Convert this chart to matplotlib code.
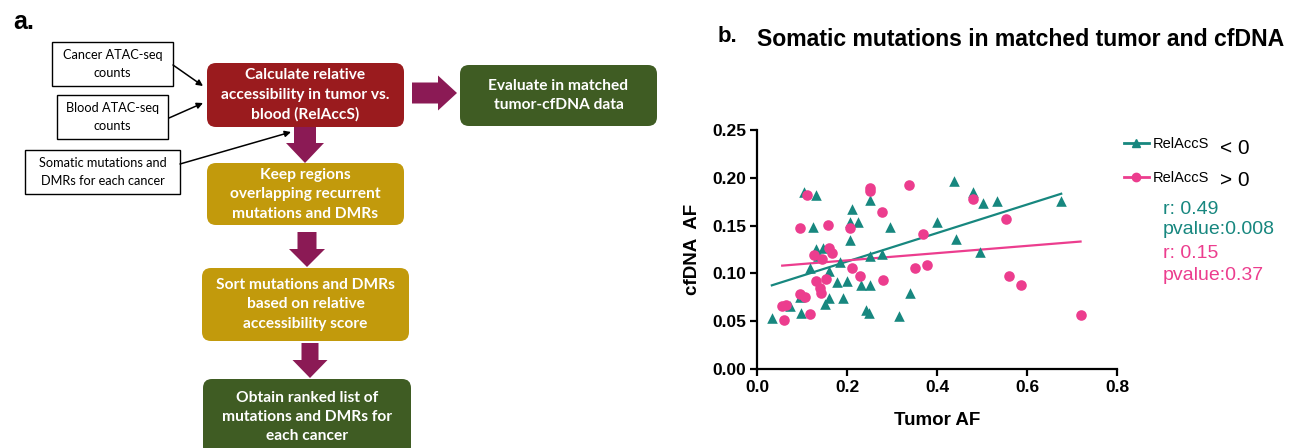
import matplotlib
matplotlib.use("Agg")
import matplotlib.pyplot as plt
from matplotlib.patches import FancyBboxPatch, Rectangle, FancyArrow
from matplotlib.lines import Line2D
import numpy as np

W, H = 1298, 448

# panel b data
tumor_neg = [0.033, 0.074, 0.095, 0.098, 0.104, 0.130, 0.124, 0.117, 0.132, 0.135,
             0.147, 0.150, 0.159, 0.159, 0.178, 0.185, 0.191, 0.200, 0.210, 0.206,
             0.224, 0.207, 0.230, 0.243, 0.248, 0.250, 0.250, 0.250, 0.278, 0.295,
             0.315, 0.339, 0.399, 0.437, 0.442, 0.481, 0.496, 0.502, 0.533, 0.676]
cfdna_neg = [0.053, 0.066, 0.075, 0.059, 0.185, 0.182, 0.149, 0.106, 0.125, 0.118,
             0.127, 0.068, 0.074, 0.103, 0.091, 0.112, 0.074, 0.092, 0.167, 0.154,
             0.154, 0.135, 0.088, 0.062, 0.059, 0.177, 0.118, 0.088, 0.120, 0.149,
             0.055, 0.079, 0.154, 0.197, 0.136, 0.185, 0.122, 0.174, 0.176, 0.176]

tumor_pos = [0.056, 0.065, 0.061, 0.096, 0.111, 0.095, 0.107, 0.117, 0.127, 0.144,
             0.130, 0.141, 0.142, 0.154, 0.157, 0.159, 0.167, 0.207, 0.211, 0.228,
             0.252, 0.252, 0.278, 0.280, 0.337, 0.350, 0.369, 0.378, 0.481, 0.554,
             0.561, 0.587, 0.719]
cfdna_pos = [0.066, 0.067, 0.051, 0.147, 0.182, 0.078, 0.075, 0.058, 0.119, 0.115,
             0.092, 0.085, 0.079, 0.094, 0.151, 0.127, 0.121, 0.147, 0.106, 0.097,
             0.189, 0.186, 0.164, 0.093, 0.192, 0.106, 0.141, 0.109, 0.178, 0.157,
             0.097, 0.088, 0.057]

# fitted lines (slope, intercept) and stats as printed
fit_neg = (0.149, 0.0826)
fit_pos = (0.038, 0.106)
stats_neg = ["r: 0.49", "pvalue:0.008"]
stats_pos = ["r: 0.15", "pvalue:0.37"]

x_ticks = [0.0, 0.2, 0.4, 0.6, 0.8]
y_ticks = [0.00, 0.05, 0.10, 0.15, 0.20, 0.25]

# panel a texts
inputs = ["Cancer ATAC-seq\ncounts", "Blood ATAC-seq\ncounts",
          "Somatic mutations and\nDMRs for each cancer"]
steps = ["Calculate relative\naccessibility in tumor vs.\nblood (RelAccS)",
         "Evaluate in matched\ntumor-cfDNA data",
         "Keep regions\noverlapping recurrent\nmutations and DMRs",
         "Sort mutations and DMRs\nbased on relative\naccessibility score",
         "Obtain ranked list of\nmutations and DMRs for\neach cancer"]

TEAL = "#17877f"
PINK = "#ec3d8e"
RED = "#9a1b1e"
GOLD = "#c29a0c"
GREEN = "#3f5c23"
ARROW = "#8b1a55"

fig = plt.figure(figsize=(W / 100, H / 100), dpi=100)

# ---- panel a: flowchart in pixel coordinates
ax0 = fig.add_axes([0, 0, 1, 1])
ax0.set_xlim(0, W)
ax0.set_ylim(H, 0)
ax0.set_axis_off()

ax0.text(13, 22, "a.", fontsize=18, fontweight="bold", family="Liberation Sans",
         va="center", ha="left")

in_boxes = [(52, 42, 173, 86), (57, 95, 168, 139), (25, 150, 180, 194)]
for (x0, y0, x1, y1), txt in zip(in_boxes, inputs):
    ax0.add_patch(Rectangle((x0, y0), x1 - x0, y1 - y0, fc="white", ec="black", lw=1))
    ax0.text((x0 + x1) / 2, (y0 + y1) / 2, txt, ha="center", va="center",
             fontsize=9.2, family="Lato", linespacing=1.6)

step_boxes = [(207, 63, 404, 127, RED), (460, 65, 657, 126, GREEN),
              (207, 163, 404, 225, GOLD), (202, 268, 409, 341, GOLD),
              (203, 379, 411, 456, GREEN)]
for (x0, y0, x1, y1, c), txt in zip(step_boxes, steps):
    ax0.add_patch(FancyBboxPatch((x0, y0), x1 - x0, y1 - y0,
                                 boxstyle="round,pad=0,rounding_size=9",
                                 fc=c, ec="none"))
    yc = (y0 + y1) / 2 if y1 < H else 417
    ax0.text((x0 + x1) / 2, yc, txt, ha="center", va="center", color="white",
             fontsize=11.2, fontweight="bold", family="Lato", linespacing=1.5)

# thick arrows: (x, y, dx, dy, shaft, head, head_len)
big_arrows = [(412, 93, 45, 0, 21, 35, 19),
              (305, 127, 0, 36, 22, 38, 20),
              (307, 232, 0, 35, 19, 36, 18),
              (310, 343, 0, 35, 17, 35, 18)]
for x, y, dx, dy, sw, hw, hl in big_arrows:
    ax0.add_patch(FancyArrow(x, y, dx, dy, width=sw, head_width=hw, head_length=hl,
                             length_includes_head=True, fc=ARROW, ec="none"))

thin_arrows = [((173, 65), (203, 86)), ((169, 118), (203, 103)), ((180, 164), (291, 132))]
for start, end in thin_arrows:
    ax0.annotate("", xy=end, xytext=start,
                 arrowprops=dict(arrowstyle="-|>", color="black", lw=1.1,
                                 mutation_scale=9, shrinkA=0, shrinkB=0))

# ---- panel b headings and legend
ax0.text(718, 36, "b.", fontsize=16, fontweight="bold", family="Liberation Sans",
         va="center", ha="left")
ax0.text(757, 40, "Somatic mutations in matched tumor and cfDNA", fontsize=16.6,
         fontweight="bold", family="Liberation Sans", va="center", ha="left")

# ---- panel b scatter
ax = fig.add_axes([757 / W, 1 - 369 / H, (1117 - 757) / W, (369 - 130) / H])
ax.scatter(tumor_neg, cfdna_neg, marker="^", s=58, color=TEAL, lw=0, zorder=3)
ax.scatter(tumor_pos, cfdna_pos, marker="o", s=58, color=PINK, lw=0, zorder=3)

for xs, (m, b), c in [(tumor_neg, fit_neg, TEAL), (tumor_pos, fit_pos, PINK)]:
    xl = np.array([min(xs), max(xs)])
    ax.plot(xl, m * xl + b, color=c, lw=1.6, zorder=2)

ax.set_xlim(0, 0.8)
ax.set_ylim(0, 0.25)
ax.set_xticks(x_ticks)
ax.set_yticks(y_ticks)
ax.set_xticklabels([f"{v:.1f}" for v in x_ticks])
ax.set_yticklabels([f"{v:.2f}" for v in y_ticks])
for s in ["top", "right"]:
    ax.spines[s].set_visible(False)
for s in ["left", "bottom"]:
    ax.spines[s].set_linewidth(1.6)
ax.tick_params(direction="out", length=5, width=1.6, pad=3)
for lab in ax.get_xticklabels() + ax.get_yticklabels():
    lab.set_fontweight("bold")
    lab.set_fontsize(12.5)
    lab.set_family("Liberation Sans")
ax.set_xlabel("Tumor AF", fontsize=13.5, fontweight="bold", family="Liberation Sans",
              labelpad=12)
ax.set_ylabel("cfDNA  AF", fontsize=13.5, fontweight="bold", family="Liberation Sans",
              labelpad=8)

handles = [Line2D([], [], color=TEAL, marker="^", lw=2, ms=6),
           Line2D([], [], color=PINK, marker="o", lw=2, ms=6)]
ax.legend(handles, ["RelAccS", "RelAccS"], loc="upper left",
          bbox_to_anchor=(1124 / W, 1 - 137 / H), bbox_transform=fig.transFigure,
          frameon=False, prop={"family": "Liberation Sans", "size": 10.5},
          handlelength=1.7, handletextpad=0.3, labelspacing=1.35,
          borderpad=0, borderaxespad=0)
ax0.text(1220, 148, "< 0", fontsize=15, family="Liberation Sans", va="center")
ax0.text(1220, 181, "> 0", fontsize=15, family="Liberation Sans", va="center")

for i, txt in enumerate(stats_neg + stats_pos):
    c = TEAL if i < 2 else PINK
    ax0.text(1163, [209, 229, 253, 275][i], txt, fontsize=14, color=c,
             family="Liberation Sans", va="center", ha="left")

fig.savefig("out.png", dpi=100)
